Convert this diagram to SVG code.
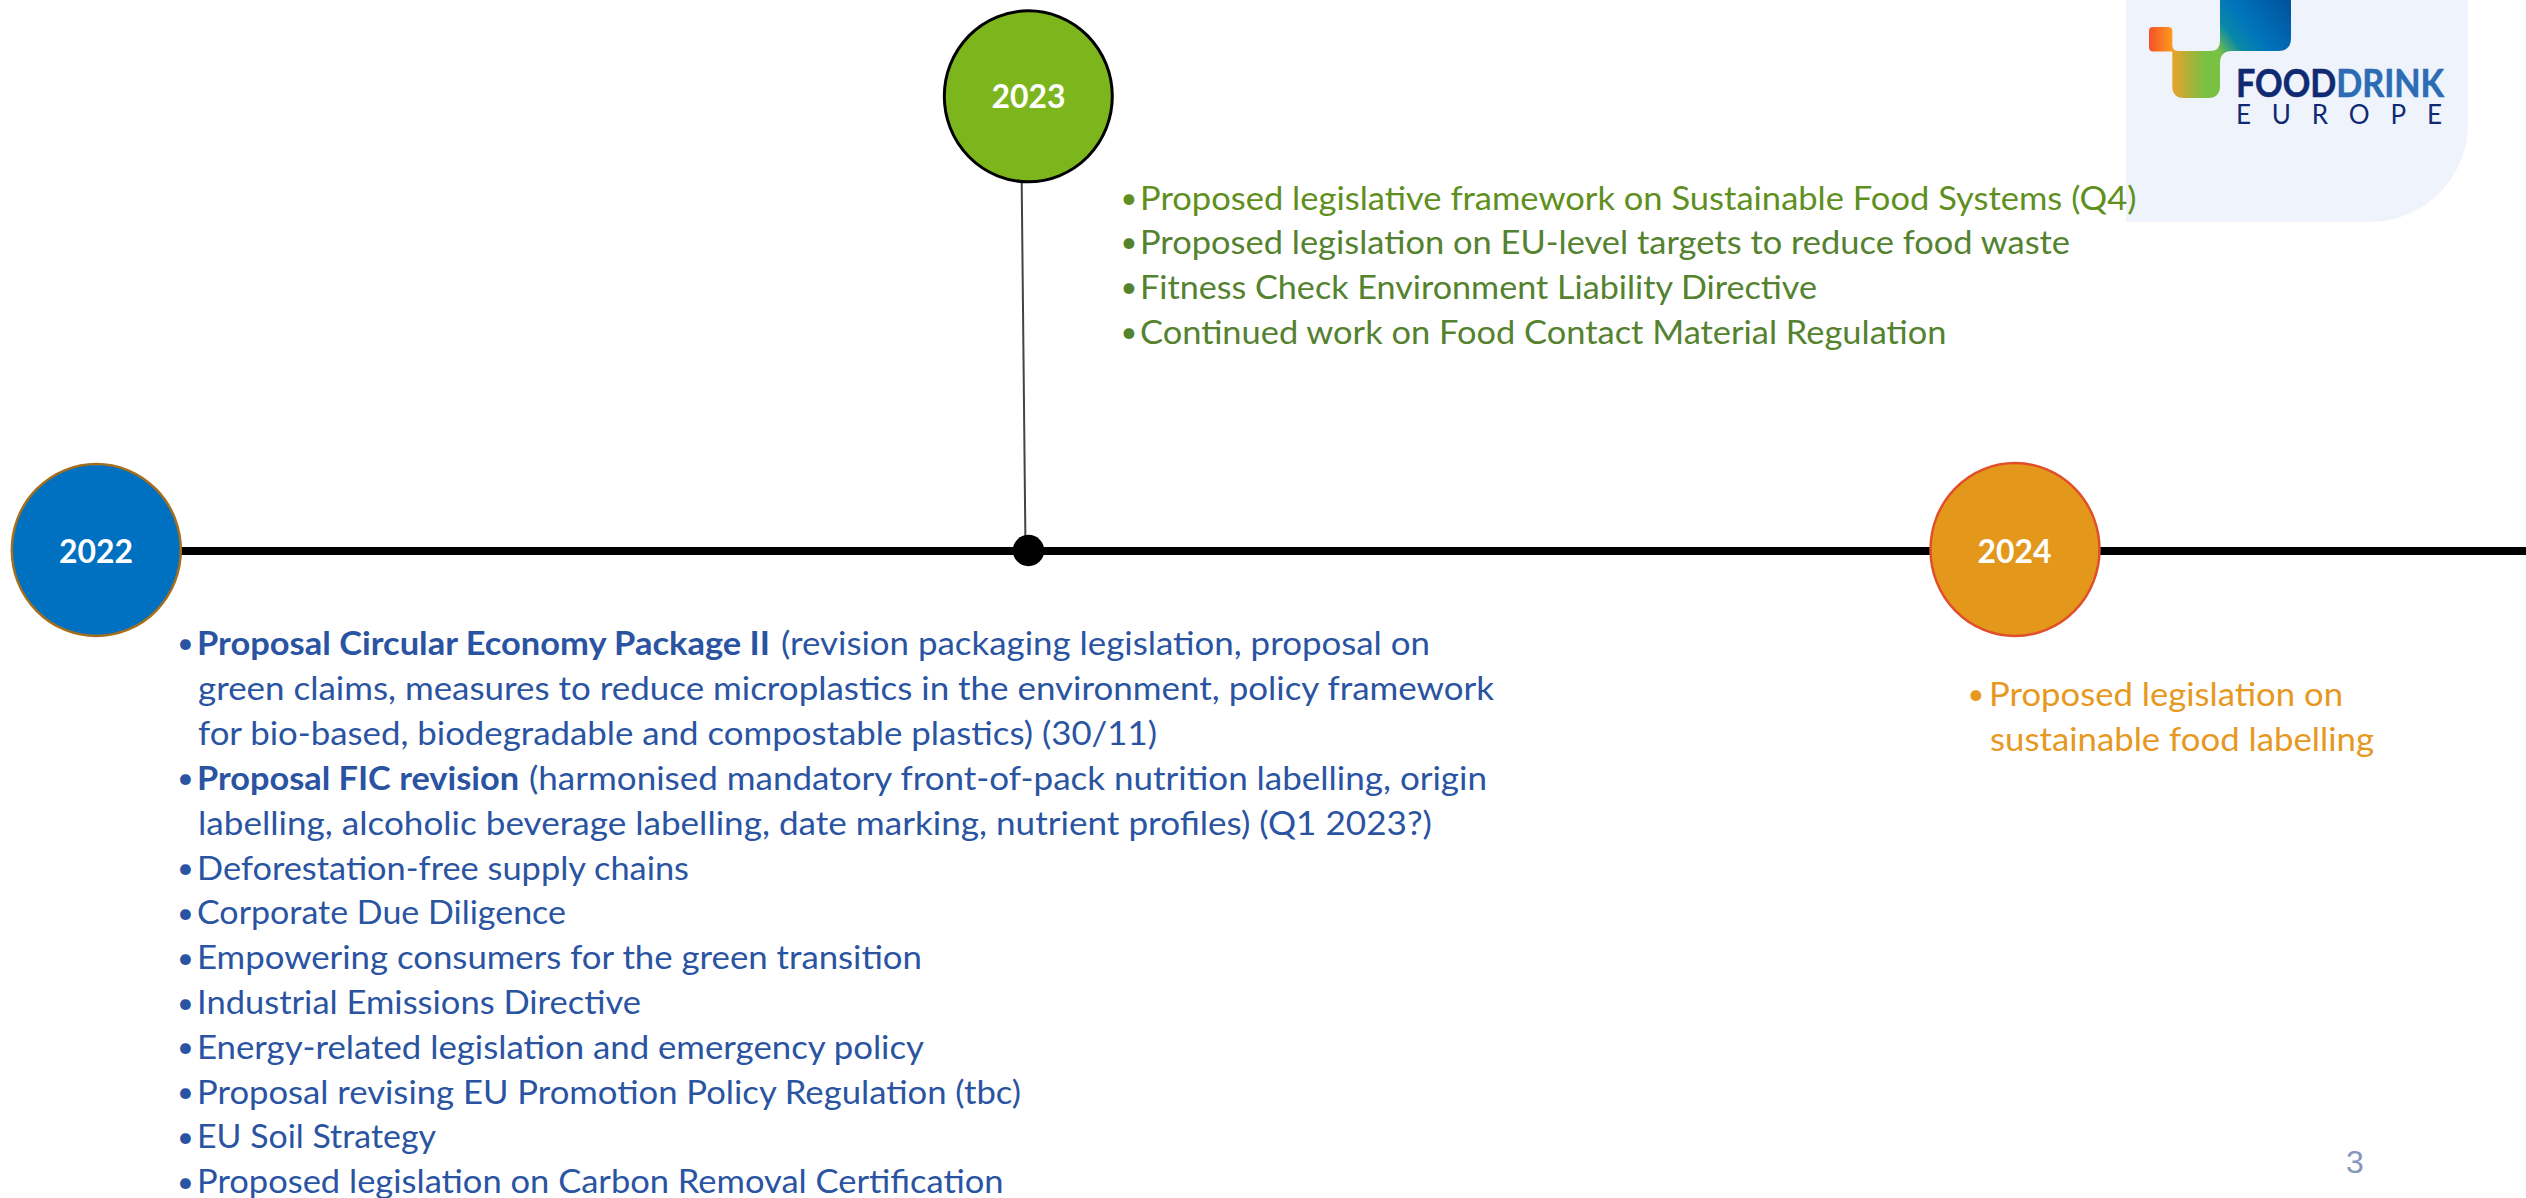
<svg xmlns="http://www.w3.org/2000/svg" width="2526" height="1198" viewBox="0 0 2526 1198">
<defs>
<style>
text{font-family:"Lato","Carlito","Open Sans",sans-serif}
.t{font-size:32px}
.bu{font-size:29px;text-anchor:middle}
.b{fill:#2a54a2}
.g1{fill:#5f8f1e}
.g{fill:#54822f}
.o{fill:#e6981f}
.y{font-size:32px;font-weight:700;fill:#fff}
.s{font-weight:700}
.yc{stroke-width:2.5}
</style>
<linearGradient id="lo" gradientUnits="userSpaceOnUse" x1="2149" x2="2172" y1="0" y2="0"><stop offset="0" stop-color="#f4502a"/><stop offset="1" stop-color="#fd9a1c"/></linearGradient>
<linearGradient id="lg" gradientUnits="userSpaceOnUse" x1="2172" x2="2205" y1="0" y2="0"><stop offset="0" stop-color="#e8a22a"/><stop offset="1" stop-color="#78c143"/></linearGradient>
<linearGradient id="lb" gradientUnits="userSpaceOnUse" x1="2218" y1="52" x2="2291" y2="-4"><stop offset="0" stop-color="#7ac143"/><stop offset="0.22" stop-color="#0a88a8"/><stop offset="0.45" stop-color="#0074bb"/><stop offset="1" stop-color="#00509a"/></linearGradient>
</defs>
<rect width="2526" height="1198" fill="#fff"/>
<g id="panel">
<path d="M2126 0H2468V124A98 98 0 0 1 2370 222H2126Z" fill="#eff3fb"/>
</g>
<g id="connectors">
<line x1="110" y1="551" x2="2526" y2="551" stroke="#000" stroke-width="8"/>
<line x1="1021.7" y1="183" x2="1025.4" y2="540" stroke="#444" stroke-width="2"/>
</g>
<g id="logo">
<path d="M2149 31Q2149 27 2153 27H2168Q2172.3 27 2172.3 31V45Q2172.3 51 2178 51V51.5H2153Q2149 51.5 2149 47Z" fill="url(#lo)"/>
<path d="M2172.3 45Q2172.3 51 2178 51H2210Q2220 51 2220 41V63V86Q2220 98 2208 98H2184Q2172.3 98 2172.3 86Z" fill="url(#lg)"/>
<path d="M2220 0H2291V38Q2291 51 2278 51H2232Q2220 51 2220 63V41Q2220 46 2220 41Z" fill="url(#lb)"/>
<text x="2236" y="97" font-size="38" font-weight="700" stroke-width="0.6" textLength="208" lengthAdjust="spacingAndGlyphs"><tspan fill="#0f2a72" stroke="#0f2a72">FOOD</tspan><tspan fill="#2b6cb4" stroke="#2b6cb4">DRINK</tspan></text>
<text x="2236" y="124" font-size="26" fill="#0f2a72" textLength="206">EUROPE</text>
</g>
<g id="y2022"><ellipse class="yc" cx="96.3" cy="550" rx="84.5" ry="86" fill="#0070c0" stroke="#a36f1c"/><text class="y" x="59" y="563" textLength="74" lengthAdjust="spacingAndGlyphs">2022</text></g>
<g id="y2023"><ellipse cx="1028.3" cy="96.3" rx="84" ry="85.5" fill="#7db51c" stroke="#000" stroke-width="3"/><text class="y" x="991.5" y="108" textLength="74" lengthAdjust="spacingAndGlyphs">2023</text></g>
<g id="y2024"><ellipse class="yc" cx="2015" cy="549.5" rx="84.5" ry="86.5" fill="#e3981c" stroke="#e04e2a"/><text class="y" x="1977.5" y="563" textLength="74" lengthAdjust="spacingAndGlyphs">2024</text></g>
<g id="dot"><circle cx="1028.5" cy="550.5" r="15.7"/></g>
<g id="t2023" class="t">
<text class="bu g1" x="1129" y="208">•</text><text class="t g1" x="1140" y="210" textLength="996.5" lengthAdjust="spacingAndGlyphs">Proposed legislative framework on Sustainable Food Systems (Q4)</text>
<text class="bu g" x="1129" y="252">•</text><text class="t g" x="1140" y="254" textLength="930" lengthAdjust="spacingAndGlyphs">Proposed legislation on EU-level targets to reduce food waste</text>
<text class="bu g" x="1129" y="297">•</text><text class="t g" x="1140" y="299" textLength="677" lengthAdjust="spacingAndGlyphs">Fitness Check Environment Liability Directive</text>
<text class="bu g" x="1129" y="342">•</text><text class="t g" x="1140" y="344" textLength="806.5" lengthAdjust="spacingAndGlyphs">Continued work on Food Contact Material Regulation</text>
</g>
<g id="t2022" class="t">
<text class="bu b" x="185.5" y="653">•</text><text class="t b s" x="197" y="655" textLength="573" lengthAdjust="spacingAndGlyphs">Proposal Circular Economy Package II</text><text class="t b" x="781" y="655" textLength="649" lengthAdjust="spacingAndGlyphs">(revision packaging legislation, proposal on</text>
<text class="t b" x="198" y="700" textLength="1296" lengthAdjust="spacingAndGlyphs">green claims, measures to reduce microplastics in the environment, policy framework</text>
<text class="t b" x="198" y="745" textLength="959" lengthAdjust="spacingAndGlyphs">for bio-based, biodegradable and compostable plastics) (30/11)</text>
<text class="bu b" x="185.5" y="788">•</text><text class="t b s" x="197" y="790" textLength="322" lengthAdjust="spacingAndGlyphs">Proposal FIC revision</text><text class="t b" x="529" y="790" textLength="958" lengthAdjust="spacingAndGlyphs">(harmonised mandatory front-of-pack nutrition labelling, origin</text>
<text class="t b" x="198" y="835" textLength="1234" lengthAdjust="spacingAndGlyphs">labelling, alcoholic beverage labelling, date marking, nutrient profiles) (Q1 2023?)</text>
<text class="bu b" x="185.5" y="878">•</text><text class="t b" x="197" y="880" textLength="492" lengthAdjust="spacingAndGlyphs">Deforestation-free supply chains</text>
<text class="bu b" x="185.5" y="923">•</text><text class="t b" x="197" y="924" textLength="369" lengthAdjust="spacingAndGlyphs">Corporate Due Diligence</text>
<text class="bu b" x="185.5" y="968">•</text><text class="t b" x="197" y="969" textLength="725" lengthAdjust="spacingAndGlyphs">Empowering consumers for the green transition</text>
<text class="bu b" x="185.5" y="1013">•</text><text class="t b" x="197" y="1014" textLength="444" lengthAdjust="spacingAndGlyphs">Industrial Emissions Directive</text>
<text class="bu b" x="185.5" y="1057">•</text><text class="t b" x="197" y="1058.5" textLength="727" lengthAdjust="spacingAndGlyphs">Energy-related legislation and emergency policy</text>
<text class="bu b" x="185.5" y="1102">•</text><text class="t b" x="197" y="1103.5" textLength="824" lengthAdjust="spacingAndGlyphs">Proposal revising EU Promotion Policy Regulation (tbc)</text>
<text class="bu b" x="185.5" y="1147">•</text><text class="t b" x="197" y="1148" textLength="239" lengthAdjust="spacingAndGlyphs">EU Soil Strategy</text>
<text class="bu b" x="185.5" y="1192">•</text><text class="t b" x="197" y="1193" textLength="806.5" lengthAdjust="spacingAndGlyphs">Proposed legislation on Carbon Removal Certification</text>
</g>
<g id="t2024" class="t">
<text class="bu o" x="1976" y="704">•</text><text class="t o" x="1989" y="706" textLength="354" lengthAdjust="spacingAndGlyphs">Proposed legislation on</text>
<text class="t o" x="1990" y="751" textLength="384" lengthAdjust="spacingAndGlyphs">sustainable food labelling</text>
</g>
<text id="page" x="2346" y="1173" font-size="32" fill="#8795ba" style="font-family:'Liberation Sans',sans-serif">3</text>
</svg>
